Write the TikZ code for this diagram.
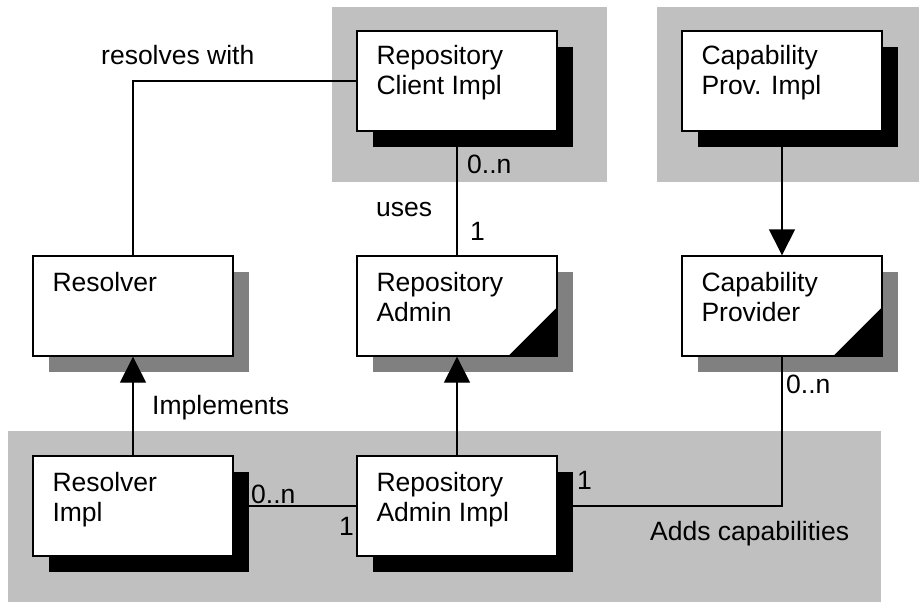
\documentclass[tikz,border=0pt]{standalone}
\usepackage{fontspec}
\setmainfont{Liberation Sans}
\usetikzlibrary{arrows.meta}
\definecolor{bglight}{HTML}{C0C0C0}
\definecolor{shadowgray}{HTML}{808080}
\begin{document}
\begin{tikzpicture}[x=1pt,y=-1pt,
  classbox/.style={draw=black, fill=white, line width=1.4pt, minimum width=200pt, minimum height=100pt, inner sep=0pt},
  shadowbox/.style={fill=#1, draw=none, minimum width=200pt, minimum height=100pt, inner sep=0pt},
  txt/.style={anchor=base west, inner sep=0pt, font=\fontsize{26.5}{30}\selectfont},
  conn/.style={line width=1.4pt},
  inh/.style={conn, -{Triangle[width=26pt,length=26pt]}},
  corner/.style={fill=black}
]
\useasboundingbox (0,0) rectangle (919,602);
% grouping backgrounds
\fill[bglight] (332,7) rectangle (607,182);
\fill[bglight] (657,7) rectangle (919,182);
\fill[bglight] (8,431) rectangle (881,602);
% shadows
\node[shadowbox=black] (rcis) at (473,97) {};
\node[shadowbox=black] (cpis) at (798,97) {};
\node[shadowbox=shadowgray] (ress) at (149,322) {};
\node[shadowbox=shadowgray] (ras) at (473,322) {};
\node[shadowbox=shadowgray] (cps) at (798,322) {};
\node[shadowbox=black] (resis) at (149,522) {};
\node[shadowbox=black] (rais) at (473,522) {};
% boxes
\node[classbox] (rci) at (457,81) {};
\node[classbox] (cpi) at (782,81) {};
\node[classbox] (res) at (133,306) {};
\node[classbox] (ra) at (457,306) {};
\node[classbox] (cp) at (782,306) {};
\node[classbox] (resi) at (133,506) {};
\node[classbox] (rai) at (457,506) {};
% corner marks
\fill[corner] ([shift={(-50,0)}]ra.south east) -- (ra.south east) -- ([shift={(0,-50)}]ra.south east) -- cycle;
\fill[corner] ([shift={(-50,0)}]cp.south east) -- (cp.south east) -- ([shift={(0,-50)}]cp.south east) -- cycle;
% box texts
\node[txt] (rcit1) at ([shift={(20,34)}]rci.north west) {Repository};
\node[txt] (rcit2) at ([shift={(20,64)}]rci.north west) {Client Impl};
\node[txt] (cpit1) at ([shift={(20,34)}]cpi.north west) {Capability};
\node[txt] (cpit2) at ([shift={(20,64)}]cpi.north west) {Prov. Impl};
\node[txt] (rest1) at ([shift={(20,36)}]res.north west) {Resolver};
\node[txt] (rat1) at ([shift={(20,36)}]ra.north west) {Repository};
\node[txt] (rat2) at ([shift={(20,66)}]ra.north west) {Admin};
\node[txt] (cpt1) at ([shift={(20,36)}]cp.north west) {Capability};
\node[txt] (cpt2) at ([shift={(20,66)}]cp.north west) {Provider};
\node[txt] (resit1) at ([shift={(20,36)}]resi.north west) {Resolver};
\node[txt] (resit2) at ([shift={(20,66)}]resi.north west) {Impl};
\node[txt] (rait1) at ([shift={(20,36)}]rai.north west) {Repository};
\node[txt] (rait2) at ([shift={(20,66)}]rai.north west) {Admin Impl};
% connectors
\draw[conn] (res.north) |- (rci.west);
\draw[conn] (rci.south) -- (ra.north);
\draw[inh] (cpi.south) -- (cp.north);
\draw[inh] (resi.north) -- (res.south);
\draw[inh] (rai.north) -- (ra.south);
\draw[conn] (resi.east) -- (rai.west);
\draw[conn] (rai.east) -| (cp.south);
% labels
\node[txt] (lres) at (101,65) {resolves with};
\node[txt] (lrcin) at (467,173) {0..n};
\node[txt] (luses) at (376,216) {uses};
\node[txt] (lra1) at (470,240) {1};
\node[txt] (limpl) at (152,414) {Implements};
\node[txt] (lcpn) at (786,393) {0..n};
\node[txt] (lresin) at (251,503) {0..n};
\node[txt] (lrai1) at (339,535) {1};
\node[txt] (lrai1r) at (577,489) {1};
\node[txt] (ladds) at (650,540) {Adds capabilities};
\end{tikzpicture}
\end{document}
